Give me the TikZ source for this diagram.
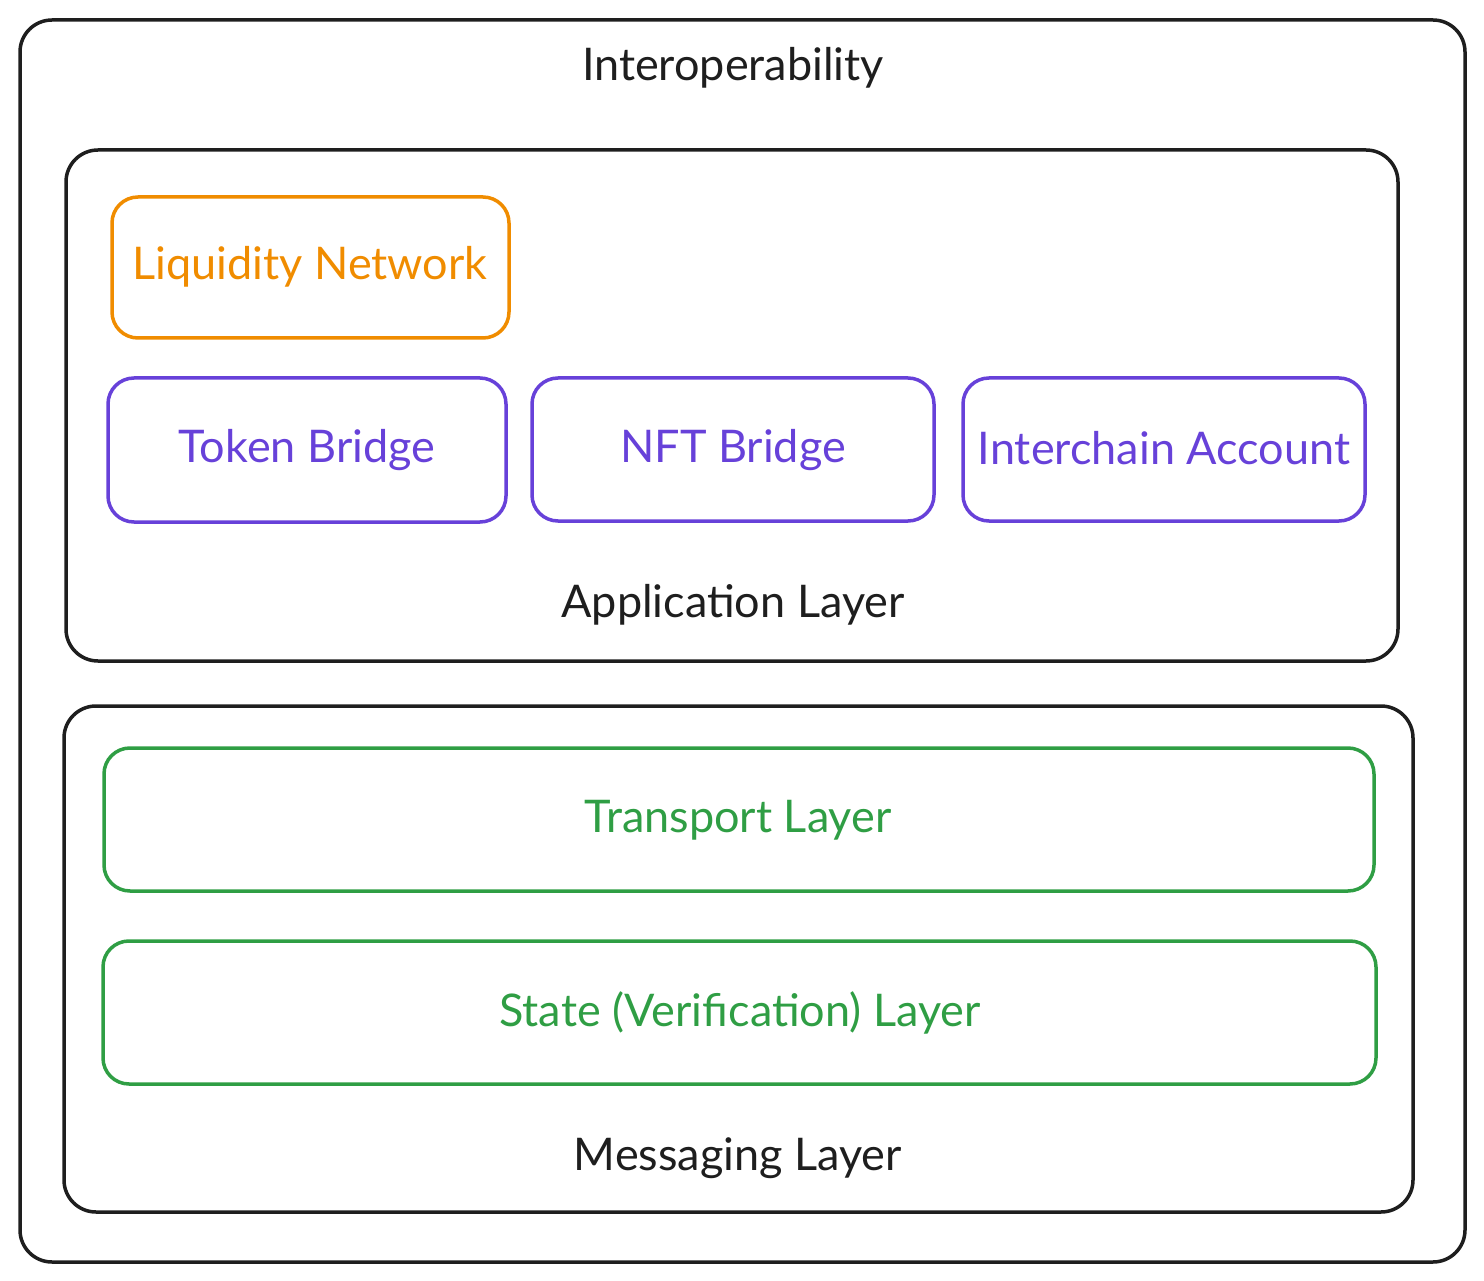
\documentclass[tikz,border=0pt]{standalone}
\usepackage{fontspec}
\setmainfont{Lato}
\definecolor{exBlack}{HTML}{1E1E1E}
\definecolor{exOrange}{HTML}{F08C00}
\definecolor{exPurple}{HTML}{6741D9}
\definecolor{exGreen}{HTML}{2F9E44}
\begin{document}
\begin{tikzpicture}[x=1pt,y=-1pt,
  frame/.style={draw=exBlack,line width=3.5pt,rounded corners=32pt},
  box/.style={line width=3.5pt,rounded corners=26pt},
  lbl/.style={font=\fontsize{45}{54}\selectfont,text=exBlack},
  blbl/.style={font=\fontsize{45}{54}\selectfont}]
\useasboundingbox (0,0) rectangle (1484,1281);
\draw[frame] (20,20) rectangle (1465,1262);
\node[lbl] (title) at (733,68) {Interoperability};
% Application layer
\draw[frame] (66,150) rectangle (1398,661);
\node[lbl] (app) at (733,605) {Application Layer};
\draw[box,draw=exOrange] (112,197) rectangle (509,338);
\node[blbl,text=exOrange] (liq) at (310,267) {Liquidity Network};
\draw[box,draw=exPurple] (108,378) rectangle (506,522);
\node[blbl,text=exPurple] (tok) at (307,450) {Token Bridge};
\draw[box,draw=exPurple] (532,378) rectangle (934,521);
\node[blbl,text=exPurple] (nft) at (733,450) {NFT Bridge};
\draw[box,draw=exPurple] (963,378) rectangle (1365,521);
\node[blbl,text=exPurple] (ica) at (1164,448) {Interchain Account};
% Messaging layer
\draw[frame] (64,706) rectangle (1413,1212);
\node[lbl] (msg) at (738,1158) {Messaging Layer};
\draw[box,draw=exGreen] (104,748) rectangle (1374,891);
\node[blbl,text=exGreen] (tra) at (738,820) {Transport Layer};
\draw[box,draw=exGreen] (103,941) rectangle (1376,1084);
\node[blbl,text=exGreen] (sta) at (740,1013) {State (Verification) Layer};
\end{tikzpicture}
\end{document}
